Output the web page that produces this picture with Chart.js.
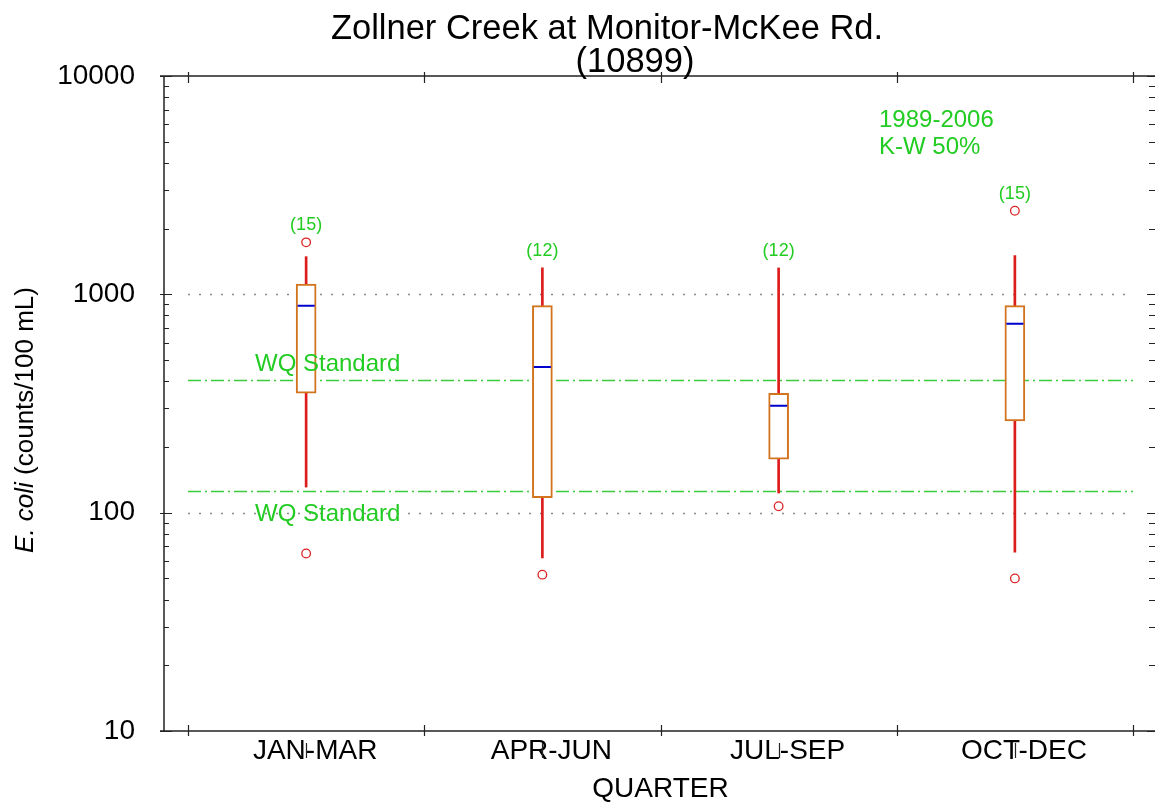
<!DOCTYPE html>
<html>
<head>
<meta charset="utf-8">
<title>Zollner Creek E. coli by quarter</title>
<script src="https://cdn.jsdelivr.net/npm/chart.js@4.4.1/dist/chart.umd.min.js"></script>
<style>
  html, body { margin: 0; padding: 0; background: #fff; }
</style>
</head>
<body>
<canvas id="boxChart" width="1155" height="804"></canvas>
<script>
// values (counts/100 mL)

const quarters = ['JAN-MAR', 'APR-JUN', 'JUL-SEP', 'OCT-DEC'];
const sampleCounts = [15, 12, 12, 15];
const whiskerLow = [131, 62, 123, 66];
const boxLow = [353, 117, 176, 263];
const medians = [887, 465, 309, 734];
const boxHigh = [1115, 887, 352, 887];
const whiskerHigh = [1488, 1321, 1321, 1503];
const outliersHigh = [1730, null, null, 2415];
const outliersLow = [65, 52, 107, 50];
const wqStandards = [406, 126];
const yLabelTicks = [10, 100, 1000, 10000];

const titleLines = ['Zollner Creek at Monitor-McKee Rd.', '(10899)'];
const periodNote = ['1989-2006', 'K-W 50%'];

const fontName = '"Liberation Sans", Arial, sans-serif';
const green = '#22cc22';

// all the minor ticks 2..9 of every decade
const yAllTicks = [];
for (let d = 10; d < 10000; d *= 10) {
  for (let k = 1; k < 10; k++) yAllTicks.push(d * k);
}
yAllTicks.push(10000);

const boxExtras = {
  id: 'boxExtras',
  beforeDatasetsDraw(chart) {
    const {ctx, chartArea: a, scales: {y}} = chart;
    ctx.save();
    // dotted lines at the inner decades
    ctx.strokeStyle = '#8a8a8a';
    ctx.lineWidth = 1.5;
    ctx.setLineDash([2, 9]);
    yLabelTicks.slice(1, -1).forEach(v => {
      const py = Math.round(y.getPixelForValue(v)) + 0.5;
      ctx.beginPath(); ctx.moveTo(a.left, py); ctx.lineTo(a.right, py); ctx.stroke();
    });
    // water quality standards
    ctx.strokeStyle = '#3acc3a';
    ctx.setLineDash([13, 4, 2, 4]);
    wqStandards.forEach(v => {
      const py = Math.round(y.getPixelForValue(v)) + 0.5;
      ctx.beginPath(); ctx.moveTo(a.left, py); ctx.lineTo(a.right, py); ctx.stroke();
    });
    ctx.restore();
  },
  afterDatasetsDraw(chart) {
    const {ctx, scales: {x, y}} = chart;
    ctx.save();
    ctx.fillStyle = green;
    ctx.font = '18px ' + fontName;
    ctx.textAlign = 'center';
    ctx.textBaseline = 'middle';
    quarters.forEach((q, i) => {
      const top = Math.max(whiskerHigh[i], outliersHigh[i] || 0);
      ctx.fillText('(' + sampleCounts[i] + ')', x.getPixelForValue(i), y.getPixelForValue(top) - 17);
    });
    ctx.restore();
  },
  afterDraw(chart) {
    const {ctx, chartArea: a, scales: {x, y}} = chart;
    const left = a.left - 24, right = a.right + 22;
    ctx.save();
    ctx.strokeStyle = '#222';
    ctx.lineWidth = 1.5;
    // frame (right side falls off the canvas, only its ticks show)
    ctx.beginPath();
    ctx.moveTo(left - 4, a.top); ctx.lineTo(right, a.top);
    ctx.moveTo(left - 4, a.bottom); ctx.lineTo(right, a.bottom);
    ctx.moveTo(left, a.top); ctx.lineTo(left, a.bottom);
    ctx.stroke();
    // y ticks, both sides, pointing in
    ctx.lineWidth = 1.2;
    y.ticks.forEach(t => {
      const py = Math.round(y.getPixelForValue(t.value)) + 0.5;
      const major = yLabelTicks.includes(t.value);
      ctx.beginPath();
      ctx.moveTo(major ? left - 4 : left, py); ctx.lineTo(left + (major ? 8 : 5), py);
      ctx.moveTo(right - (major ? 8 : 6), py); ctx.lineTo(right, py);
      ctx.stroke();
    });
    // x ticks at the category edges, top and bottom
    const step = x.getPixelForValue(1) - x.getPixelForValue(0);
    for (let i = 0; i <= quarters.length; i++) {
      const px = Math.round(x.getPixelForValue(0) - step / 2 + i * step) + 0.5;
      ctx.beginPath();
      ctx.moveTo(px, a.top - 4); ctx.lineTo(px, a.top + 7);
      ctx.moveTo(px, a.bottom - 6); ctx.lineTo(px, a.bottom + 5);
      ctx.stroke();
    }
    // small marks at the category centres (through the label hyphens)
    quarters.forEach((q, i) => {
      const px = Math.round(x.getPixelForValue(i)) + 0.5;
      ctx.beginPath(); ctx.moveTo(px, a.bottom + 12); ctx.lineTo(px, a.bottom + 27); ctx.stroke();
    });

    // title
    ctx.fillStyle = '#000';
    ctx.textAlign = 'center';
    ctx.textBaseline = 'alphabetic';
    ctx.font = '34.5px ' + fontName;
    ctx.fillText(titleLines[0], 607, 39);
    ctx.fillText(titleLines[1], 635, 72);

    // y axis title, italic species name
    ctx.save();
    ctx.translate(33, 420);
    ctx.rotate(-Math.PI / 2);
    ctx.textAlign = 'left';
    const italicPart = 'E. coli', plainPart = ' (counts/100 mL)';
    ctx.font = 'italic 26px ' + fontName;
    const w1 = ctx.measureText(italicPart).width;
    ctx.font = '26px ' + fontName;
    const w2 = ctx.measureText(plainPart).width;
    const x0 = -(w1 + w2) / 2;
    ctx.font = 'italic 26px ' + fontName;
    ctx.fillText(italicPart, x0, 0);
    ctx.font = '26px ' + fontName;
    ctx.fillText(plainPart, x0 + w1, 0);
    ctx.restore();

    // green annotations
    ctx.fillStyle = green;
    ctx.textAlign = 'left';
    ctx.font = '24px ' + fontName;
    ctx.fillText(periodNote[0], a.right - 254, 127);
    ctx.fillText(periodNote[1], a.right - 254, 153.5);
    const wqUpper = y.getPixelForValue(wqStandards[0]);
    const wqLower = y.getPixelForValue(wqStandards[1]);
    ctx.fillText('WQ Standard', a.left + 67, wqUpper - 8.5);
    ctx.fillText('WQ Standard', a.left + 67, wqLower + 30);
    ctx.restore();
  }
};

const ctx = document.getElementById('boxChart');

new Chart(ctx, {
  type: 'bar',
  data: {
    labels: quarters,
    datasets: [
      {
        label: 'whiskers',
        data: quarters.map((q, i) => [whiskerLow[i], whiskerHigh[i]]),
        backgroundColor: '#dd1c1c',
        barThickness: 2,
        grouped: false,
        order: 4
      },
      {
        label: 'quartiles',
        data: quarters.map((q, i) => [boxLow[i], boxHigh[i]]),
        backgroundColor: '#ffffff',
        borderColor: '#d2731e',
        borderWidth: 2,
        borderSkipped: false,
        barThickness: 20,
        grouped: false,
        order: 3
      },
      {
        type: 'line',
        label: 'median',
        data: medians,
        showLine: false,
        pointStyle: 'line',
        pointRadius: 8.5,
        pointBorderColor: '#0000cc',
        pointBorderWidth: 2,
        order: 2
      },
      {
        type: 'line',
        label: 'high outliers',
        data: outliersHigh,
        showLine: false,
        pointStyle: 'circle',
        pointRadius: 4.3,
        pointBackgroundColor: '#ffffff',
        pointBorderColor: '#dd2222',
        pointBorderWidth: 1.3,
        order: 1
      },
      {
        type: 'line',
        label: 'low outliers',
        data: outliersLow,
        showLine: false,
        pointStyle: 'circle',
        pointRadius: 4.3,
        pointBackgroundColor: '#ffffff',
        pointBorderColor: '#dd2222',
        pointBorderWidth: 1.3,
        order: 0
      }
    ]
  },
  options: {
    responsive: false,
    animation: false,
    layout: { padding: { top: 76, right: 22, left: 0, bottom: 0 } },
    plugins: {
      legend: { display: false },
      tooltip: { enabled: false },
      title: { display: false }
    },
    scales: {
      x: {
        offset: true,
        grid: { display: false, drawTicks: false },
        border: { display: false },
        ticks: {
          color: '#000',
          font: { family: fontName, size: 28 },
          padding: 3,
          labelOffset: 9,
          maxRotation: 0,
          autoSkip: false
        },
        title: {
          display: true,
          text: 'QUARTER',
          color: '#000',
          font: { family: fontName, size: 28 },
          padding: { top: 0, bottom: -2 }
        },
        afterFit(scale) { scale.height = 73; }
      },
      y: {
        type: 'logarithmic',
        min: 10,
        max: 10000,
        grid: { display: false, drawTicks: false },
        border: { display: false },
        afterBuildTicks(scale) {
          scale.ticks = yAllTicks.map(v => ({ value: v }));
        },
        ticks: {
          autoSkip: false,
          color: '#000',
          font: { family: fontName, size: 28 },
          padding: 53,
          callback: v => yLabelTicks.includes(v) ? String(v) : ''
        },
        afterFit(scale) { scale.width = 188; }
      }
    }
  },
  plugins: [boxExtras]
});
</script>
</body>
</html>
